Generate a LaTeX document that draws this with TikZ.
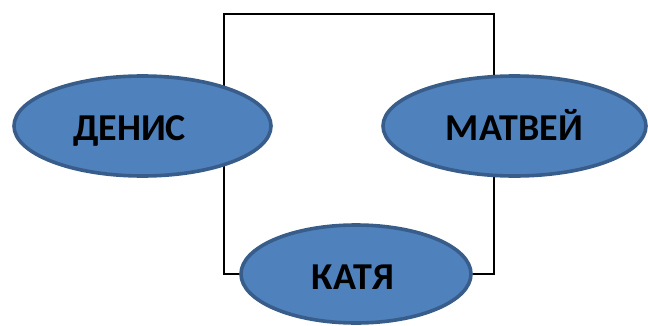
\documentclass[tikz,border=0pt]{standalone}
\usepackage{fontspec}
\setmainfont{Carlito}
\usetikzlibrary{shapes.geometric,backgrounds}
\definecolor{ovfill}{HTML}{4F81BD}
\definecolor{ovline}{HTML}{385D8A}
\tikzset{
  oval/.style={ellipse, draw=ovline, fill=ovfill, line width=3.6pt, inner sep=0pt,
    font=\fontsize{38}{40}\selectfont\bfseries, text height=25pt, text depth=0pt},
  wire/.style={draw=black, line width=2pt}
}
\begin{document}
\begin{tikzpicture}[x=1pt,y=1pt]
\useasboundingbox (0,0) rectangle (648,325);
\node[oval, minimum width=257pt, minimum height=100pt] (denis) at (142.5,199) {\raisebox{-1.5pt}{ДЕНИС}\hspace*{26pt}};
\node[oval, minimum width=263pt, minimum height=100pt] (matvey) at (514.5,199) {\raisebox{-1.5pt}{МАТВЕЙ}};
\node[oval, minimum width=230pt, minimum height=98pt] (katya) at (356,51) {\raisebox{-2.5pt}{КАТЯ}\hspace*{6pt}};
\coordinate (tl) at (224,311);
\coordinate (tr) at (494,311);
\begin{pgfonlayer}{background}
\draw[wire] (katya.center) -| (tl) -- (tr) |- (katya.center);
\end{pgfonlayer}
\end{tikzpicture}
\end{document}
